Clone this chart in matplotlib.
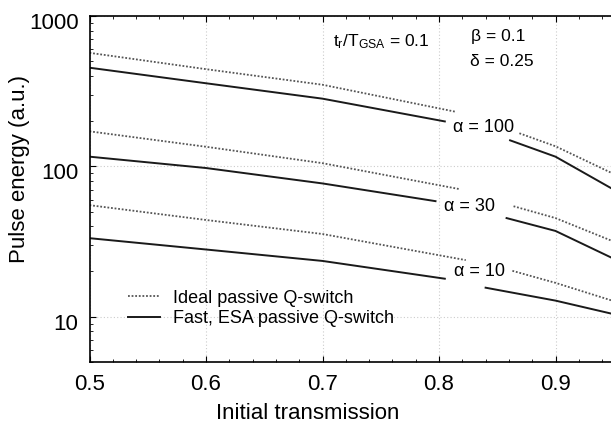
import numpy as np
import matplotlib
matplotlib.use("Agg")
import matplotlib.pyplot as plt
from matplotlib.ticker import MultipleLocator, FixedLocator, NullFormatter, FuncFormatter
from matplotlib.transforms import ScaledTranslation

plt.rcParams['font.family'] = ['Liberation Sans', 'DejaVu Sans']
plt.rcParams['mathtext.default'] = 'regular'

# Pulse energy vs initial transmission, two segments per curve (gap for the label)
t_ideal_100_a = [0.5, 0.6, 0.7, 0.814]
e_ideal_100_a = [569, 443, 349, 231]
t_ideal_100_b = [0.869, 0.9, 0.95]
e_ideal_100_b = [166, 136, 89]

t_fast_100_a = [0.5, 0.6, 0.7, 0.805]
e_fast_100_a = [453, 357, 282, 199]
t_fast_100_b = [0.861, 0.9, 0.95]
e_fast_100_b = [149, 116, 70]

t_ideal_30_a = [0.5, 0.6, 0.7, 0.818]
e_ideal_30_a = [171, 135, 105, 70.5]
t_ideal_30_b = [0.864, 0.9, 0.95]
e_ideal_30_b = [54.3, 45.3, 31.6]

t_fast_30_a = [0.5, 0.6, 0.7, 0.797]
e_fast_30_a = [116, 97.5, 77, 58.7]
t_fast_30_b = [0.858, 0.9, 0.95]
e_fast_30_b = [45.3, 37.2, 24.3]

t_ideal_10_a = [0.5, 0.6, 0.7, 0.823]
e_ideal_10_a = [55.2, 44, 35.5, 23.8]
t_ideal_10_b = [0.863, 0.9, 0.95]
e_ideal_10_b = [20.2, 16.8, 12.7]

t_fast_10_a = [0.5, 0.6, 0.7, 0.805]
e_fast_10_a = [33.3, 28, 23.5, 17.9]
t_fast_10_b = [0.84, 0.9, 0.95]
e_fast_10_b = [15.6, 12.8, 10.4]

alpha_labels = ['α = 100', 'α = 30', 'α = 10']
alpha_label_t = [0.838, 0.826, 0.835]
alpha_label_e = [181, 54.3, 19.9]

x_ticks = [0.5, 0.6, 0.7, 0.8, 0.9]
y_ticks = [10, 100, 1000]

fig = plt.figure(figsize=(6.11, 4.24), dpi=100)
# the x axis runs to 1.0, past the right edge of the figure
ax = fig.add_axes([89.5 / 611, 62 / 424, 582.5 / 611, 346 / 424])

dot = dict(color='#555555', lw=1.3, linestyle=(0, (1, 1)))
sol = dict(color='#1a1a1a', lw=1.4, linestyle='-')

ax.plot(t_ideal_100_a, e_ideal_100_a, **dot, label='Ideal passive Q-switch')
ax.plot(t_ideal_100_b, e_ideal_100_b, **dot)
ax.plot(t_ideal_30_a, e_ideal_30_a, **dot)
ax.plot(t_ideal_30_b, e_ideal_30_b, **dot)
ax.plot(t_ideal_10_a, e_ideal_10_a, **dot)
ax.plot(t_ideal_10_b, e_ideal_10_b, **dot)

ax.plot(t_fast_100_a, e_fast_100_a, **sol, label='Fast, ESA passive Q-switch')
ax.plot(t_fast_100_b, e_fast_100_b, **sol)
ax.plot(t_fast_30_a, e_fast_30_a, **sol)
ax.plot(t_fast_30_b, e_fast_30_b, **sol)
ax.plot(t_fast_10_a, e_fast_10_a, **sol)
ax.plot(t_fast_10_b, e_fast_10_b, **sol)

for lab, t, e in zip(alpha_labels, alpha_label_t, alpha_label_e):
    ax.text(t, e, lab, fontsize=13, ha='center', va='center')

ax.text(0.750, 673, r'$t_r/T_{GSA}$ = 0.1', fontsize=12.5, ha='center', va='center')
ax.text(0.8275, 726, 'β = 0.1', fontsize=12.5, ha='left', va='center')
ax.text(0.8265, 496, 'δ = 0.25', fontsize=12.5, ha='left', va='center')

ax.set_yscale('log')
ax.set_xlim(0.5, 1.0)
ax.set_ylim(5, 1000)
ax.xaxis.set_major_locator(FixedLocator(x_ticks))
ax.xaxis.set_major_formatter(FuncFormatter(lambda v, p: f'{v:.1f}'))
ax.xaxis.set_minor_locator(MultipleLocator(0.02))
ax.yaxis.set_major_locator(FixedLocator(y_ticks))
ax.yaxis.set_major_formatter(FuncFormatter(lambda v, p: f'{v:g}'))
ax.yaxis.set_minor_formatter(NullFormatter())

ax.tick_params(which='both', direction='in', top=True, right=True)
ax.tick_params(which='major', length=4, width=0.8, labelsize=16)
ax.tick_params(axis='x', which='major', pad=9)
ax.tick_params(axis='y', which='major', pad=8)
ax.tick_params(which='minor', length=2, width=0.6)
for s in ax.spines.values():
    s.set_linewidth(1.2)

# y tick labels sit a little below their ticks
shift = ScaledTranslation(0, -5 / 100, fig.dpi_scale_trans)
for tk in ax.yaxis.get_major_ticks():
    tk.label1.set_transform(tk.label1.get_transform() + shift)

ax.grid(True, which='major', color='#cccccc', linestyle=(0, (1, 2)), lw=0.8)

ax.set_xlabel('Initial transmission', fontsize=16)
ax.set_ylabel('Pulse energy (a.u.)', fontsize=16)
ax.xaxis.set_label_coords(0.375, -0.118)
ax.yaxis.set_label_coords(-0.102, 0.559)

ax.legend(loc='lower left', bbox_to_anchor=(0.066, 0.1), frameon=False,
          fontsize=13, handlelength=1.8, handletextpad=0.7, labelspacing=0.2,
          borderpad=0, borderaxespad=0)

fig.savefig('out.png', dpi=100)
